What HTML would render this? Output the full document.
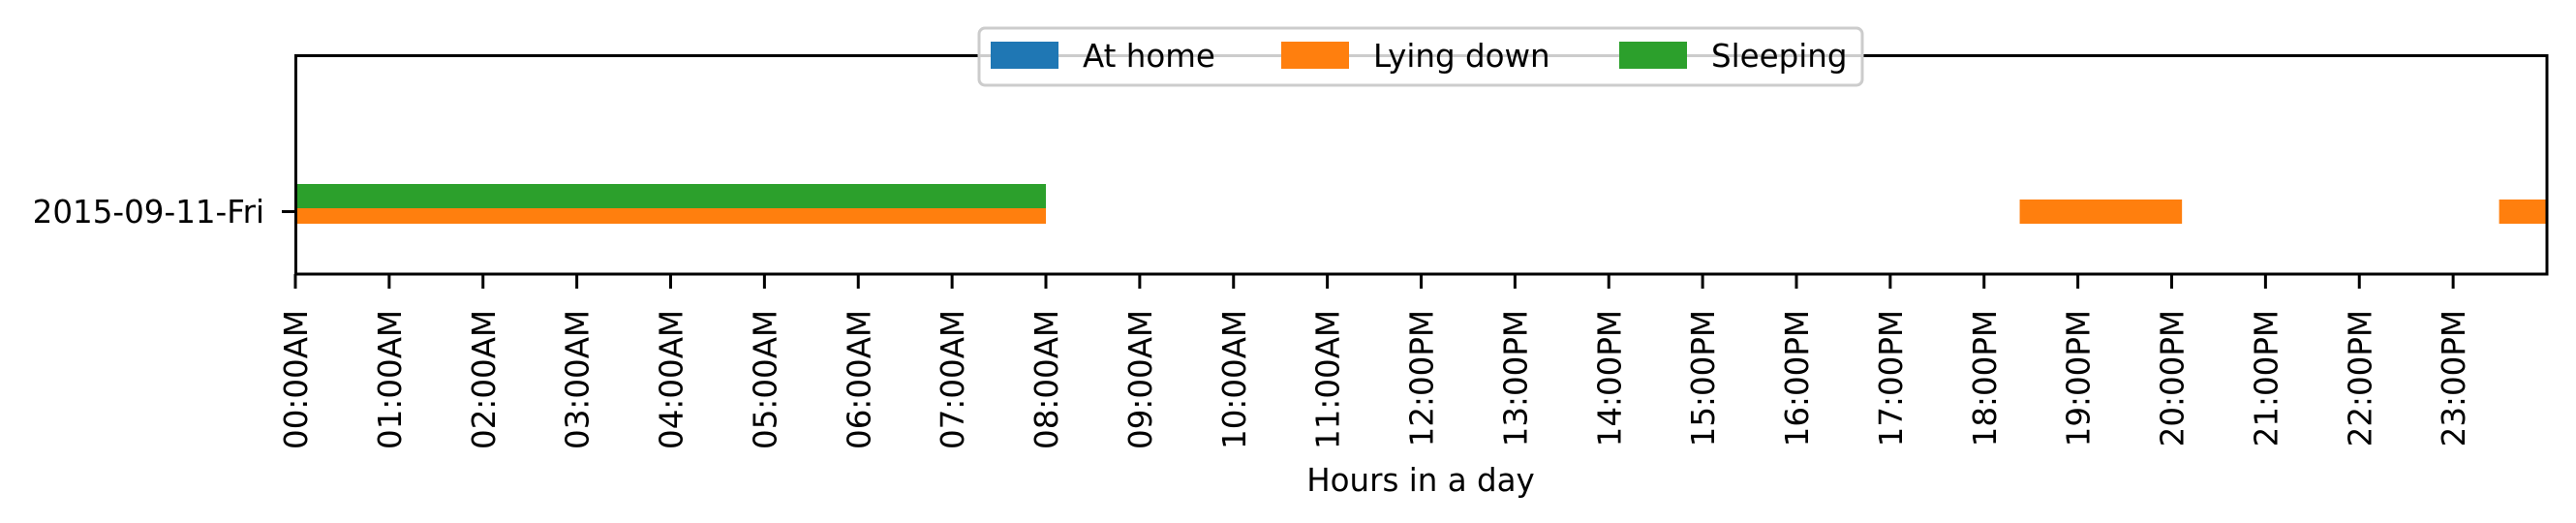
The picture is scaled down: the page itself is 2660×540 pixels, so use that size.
<!DOCTYPE html>
<html><head><meta charset="utf-8"><style>
html,body{margin:0;padding:0;background:#fff;}
svg{display:block;font-family:"DejaVu Sans","Liberation Sans",sans-serif;}
</style></head><body>
<svg id="chart" width="2660" height="540" viewBox="0 0 2660 540" xmlns="http://www.w3.org/2000/svg">
<rect x="0" y="0" width="2660" height="540" fill="#fff"/>
<g id="bars"></g>
<rect x="305.5" y="57.5" width="2324.5" height="225.5" fill="none" stroke="#000" stroke-width="3"/>
<g id="xticks"></g>
<g>
<line x1="291" y1="218.5" x2="305" y2="218.5" stroke="#000" stroke-width="3"/>
<text x="273" y="230" font-size="32.5" text-anchor="end" fill="#000">2015-09-11-Fri</text>
</g>
<text x="1467" y="507" font-size="32.5" text-anchor="middle" fill="#000">Hours in a day</text>
<g>
<rect x="1011" y="29" width="912" height="59" rx="6" fill="#fff" fill-opacity="0.8" stroke="#cccccc" stroke-width="3"/>
<g>
<rect x="1023" y="43" width="70" height="28" fill="#1f77b4"/>
<text x="1118" y="69" font-size="32.5" fill="#000">At home</text>
</g>
<g>
<rect x="1323" y="43" width="70" height="28" fill="#ff7f0e"/>
<text x="1418" y="69" font-size="32.5" fill="#000">Lying down</text>
</g>
<g>
<rect x="1672" y="43" width="70" height="28" fill="#2ca02c"/>
<text x="1767" y="69" font-size="32.5" fill="#000">Sleeping</text>
</g>
</g>
</svg>
<script>
const hourTicks = [0,1,2,3,4,5,6,7,8,9,10,11,12,13,14,15,16,17,18,19,20,21,22,23];
const tickLabels = ["00:00AM","01:00AM","02:00AM","03:00AM","04:00AM","05:00AM","06:00AM","07:00AM","08:00AM","09:00AM","10:00AM","11:00AM","12:00PM","13:00PM","14:00PM","15:00PM","16:00PM","17:00PM","18:00PM","19:00PM","20:00PM","21:00PM","22:00PM","23:00PM"];
const lyingStarts = [0, 18.38, 23.49];
const lyingEnds = [8.0, 20.11, 24.0];
const sleepingStarts = [0];
const sleepingEnds = [8.0];
const homeStarts = [];
const homeEnds = [];

const NS = "http://www.w3.org/2000/svg";
const X0 = 305, X1 = 2630;
function xScale(h){ return X0 + (X1 - X0) * h / 24; }
const barsG = document.getElementById('bars');
function drawSeries(starts, ends, y, hgt, color, name){
  for (let i = 0; i < starts.length; i++){
    const r = document.createElementNS(NS, 'rect');
    r.setAttribute('x', xScale(starts[i]));
    r.setAttribute('width', Math.max(0, Math.min(xScale(ends[i]), X1) - xScale(starts[i])));
    r.setAttribute('y', y);
    r.setAttribute('height', hgt);
    r.setAttribute('fill', color);
    
    
    barsG.appendChild(r);
  }
}
drawSeries(homeStarts, homeEnds, 222, 25, '#1f77b4', 'bar-at-home');
drawSeries(lyingStarts, lyingEnds, 206, 25, '#ff7f0e', 'bar-lying-down');
drawSeries(sleepingStarts, sleepingEnds, 190, 25, '#2ca02c', 'bar-sleeping');

const xt = document.getElementById('xticks');
for (let i = 0; i < hourTicks.length; i++){
  const x = xScale(hourTicks[i]);
  const l = document.createElementNS(NS, 'line');
  l.setAttribute('x1', x); l.setAttribute('x2', x);
  l.setAttribute('y1', 283); l.setAttribute('y2', 298);
  l.setAttribute('stroke', '#000'); l.setAttribute('stroke-width', 3);
  
  
  xt.appendChild(l);
  const t = document.createElementNS(NS, 'text');
  const bx = x + 12, by = 320;
  t.setAttribute('x', bx); t.setAttribute('y', by);
  t.setAttribute('transform', 'rotate(-90 ' + bx + ' ' + by + ')');
  t.setAttribute('text-anchor', 'end');
  t.setAttribute('font-size', '32.5');
  t.setAttribute('fill', '#000');
  
  
  t.textContent = tickLabels[i];
  xt.appendChild(t);
}
</script>
</body></html>
